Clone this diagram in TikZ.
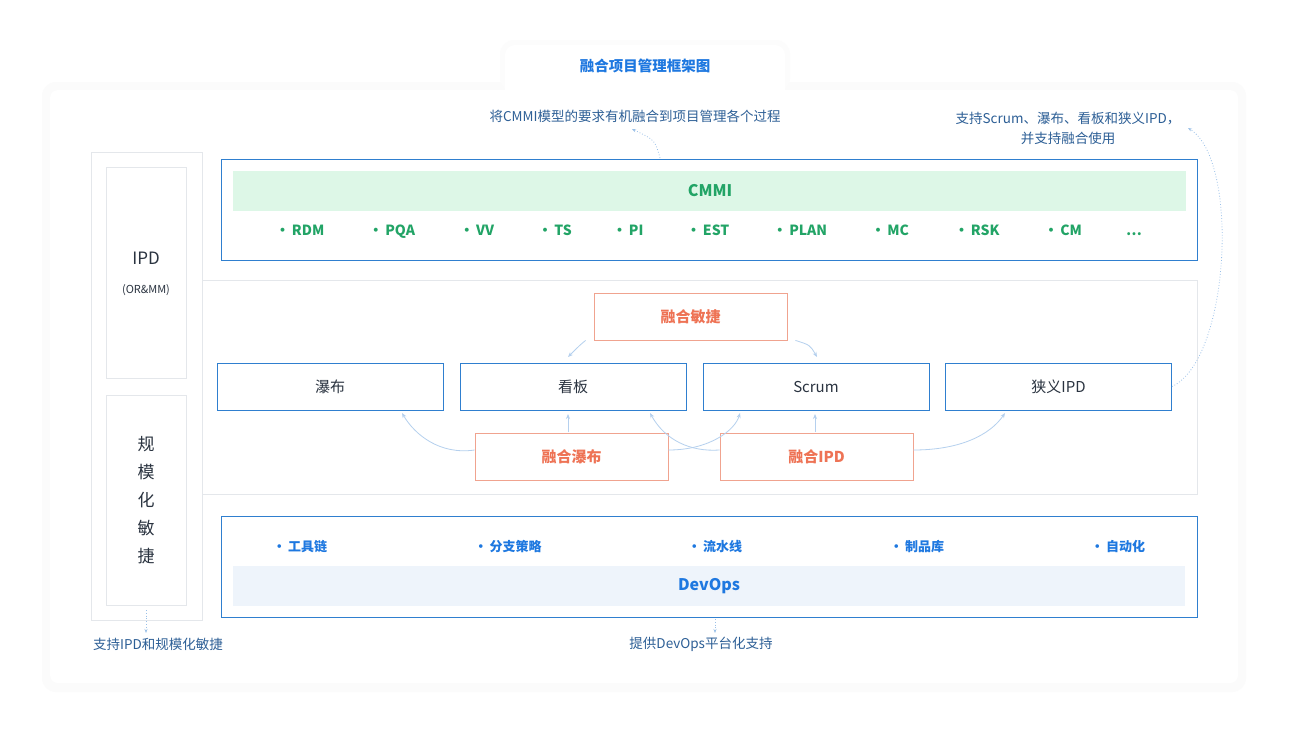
\documentclass[tikz,border=0pt]{standalone}
\usepackage{fontspec}
\setmainfont{Noto Sans CJK SC}
\usetikzlibrary{arrows.meta}
\definecolor{bl}{HTML}{2F7FCF}
\definecolor{blt}{HTML}{1E78E0}
\definecolor{org}{HTML}{EE7355}
\definecolor{orgb}{HTML}{F0A38F}
\definecolor{grn}{HTML}{22A466}
\definecolor{grnb}{HTML}{DDF7E7}
\definecolor{bband}{HTML}{EEF4FB}
\definecolor{gb}{HTML}{E4E7EB}
\definecolor{arr}{HTML}{B5D0EE}
\definecolor{txt}{HTML}{2A3340}
\definecolor{ann}{HTML}{2D5F96}
\tikzset{
 x=1pt,y=-1pt,
 mbox/.style={draw=bl,line width=0.9pt,fill=white},
 obox/.style={draw=orgb,line width=0.8pt,fill=white,text=org,font=\bfseries\fontsize{15}{17}\selectfont},
 gbox/.style={draw=gb,line width=0.7pt},
 item/.style={font=\fontsize{15}{17}\selectfont},
 bitem/.style={font=\bfseries\fontsize{14}{16}\selectfont},
 ar/.style={draw=arr,line width=0.8pt,-{Stealth[length=5pt,width=4pt]}},
 dar/.style={draw=arr!80!bl,line width=0.8pt,dotted,-{Stealth[length=4pt,width=3pt]}},
 antxt/.style={text=ann,font=\fontsize{13.5}{20}\selectfont,align=center},
}
\begin{document}
\begin{tikzpicture}
\fill[white] (0,0) rectangle (1290,737);
\useasboundingbox (0,0) rectangle (1290,737);
\fill[gray!3,rounded corners=14] (42,82) rectangle (1246,692);
\fill[gray!2,rounded corners=14] (500,40) rectangle (790,92);
\fill[white,rounded corners=10] (505,45) rectangle (785,100);
\fill[white,rounded corners=8] (50,90) rectangle (1238,683);
\node[text=blt,font=\bfseries\fontsize{14.5}{16}\selectfont] (title) at (645,66) {融合项目管理框架图};
% left column
\draw[gbox] (91,152) rectangle (202,620);
\draw[gbox] (106,167) rectangle (186,378);
\draw[gbox] (106,395) rectangle (186,605);
\node[text=txt,font=\fontsize{17}{19}\selectfont] (ipd) at (146,258) {IPD};
\node[text=txt,font=\fontsize{11}{13}\selectfont] (orm) at (146,290) {(OR\&MM)};
\node[text=txt,font=\fontsize{17}{28}\selectfont,align=center] (gm) at (146,500) {规\\模\\化\\敏\\捷};
% middle frame
\draw[gbox] (202,152) -- (202,280) -- (1197,280) -- (1197,494) -- (202,494) -- (202,620);
% CMMI
\draw[mbox] (221,159) rectangle (1197,260);
\fill[grnb] (233,171) rectangle (1186,211);
\node[text=grn,font=\bfseries\fontsize{16}{18}\selectfont] (cmmi) at (710,191) {CMMI};
\foreach \x/\t in {300/RDM,392/PQA,477/VV,555/TS,628/PI,708/EST,800/PLAN,890/MC,977/RSK,1063/CM}
 \node[bitem,text=grn,anchor=base] at (\x,235) {•\,\t};
\node[bitem,text=grn,anchor=base] (dots) at (1134,235) {…};
% DevOps
\draw[mbox] (221,516) rectangle (1197,617);
\fill[bband] (233,566) rectangle (1185,606);
\node[text=blt,font=\bfseries\fontsize{16}{18}\selectfont] (devops) at (709,586) {DevOps};
\foreach \x/\t in {300/工具链,508/分支策略,715/流水线,917/制品库,1118/自动化}
 \node[bitem,text=blt,font=\bfseries\fontsize{13}{15}\selectfont] at (\x,547) {•\,\t};
% method boxes
\node[mbox,minimum width=226,minimum height=47,text=txt,item] (pb) at (330,386.5) {瀑布};
\node[mbox,minimum width=226,minimum height=47,text=txt,item] (kb) at (573,386.5) {看板};
\node[mbox,minimum width=226,minimum height=47,text=txt,item] (sc) at (816,386.5) {Scrum};
\node[mbox,minimum width=226,minimum height=47,text=txt,item] (xy) at (1058.5,386.5) {狭义IPD};
\node[obox,minimum width=193,minimum height=47] (rm) at (690.5,316.5) {融合敏捷};
\node[obox,minimum width=193,minimum height=47] (rp) at (571.5,456.5) {融合瀑布};
\node[obox,minimum width=193,minimum height=47] (ri) at (816.5,456.5) {融合IPD};
% arrows
\draw[ar] ([xshift=-8]rm.south west) .. controls (580,345) .. (568,357);
\draw[ar] ([xshift=8]rm.south east) .. controls (810,345) .. (817,357);
\draw[ar] (rp.west |- 0,450) .. controls (440,455) and (415,435) .. (402,413);
\draw[ar] (568,432) -- (568,414);
\draw[ar] (rp.east |- 0,450) .. controls (710,450) and (735,430) .. (740,413);
\draw[ar] (ri.west |- 0,450) .. controls (690,452) and (665,440) .. (650,413);
\draw[ar] (815,432) -- (815,414);
\draw[ar] (ri.east |- 0,450) .. controls (960,450) and (990,435) .. (1005,413);
% annotations
\node[antxt] (a1) at (635,116) {将CMMI模型的要求有机融合到项目管理各个过程};
\draw[dar] (660,158) .. controls (655,140) .. (632,129);
\node[antxt] (a2) at (1068,128) {支持Scrum、瀑布、看板和狭义IPD，\\并支持融合使用};
\draw[dar] (xy.east) .. controls (1230,360) and (1240,160) .. (1188,128);
\node[antxt] (a3) at (158,644) {支持IPD和规模化敏捷};
\draw[dar] (146,610) -- (146,633);
\node[antxt] (a4) at (701,644) {提供DevOps平台化支持};
\draw[dar] (715,619) -- (715,633);
\end{tikzpicture}
\end{document}
